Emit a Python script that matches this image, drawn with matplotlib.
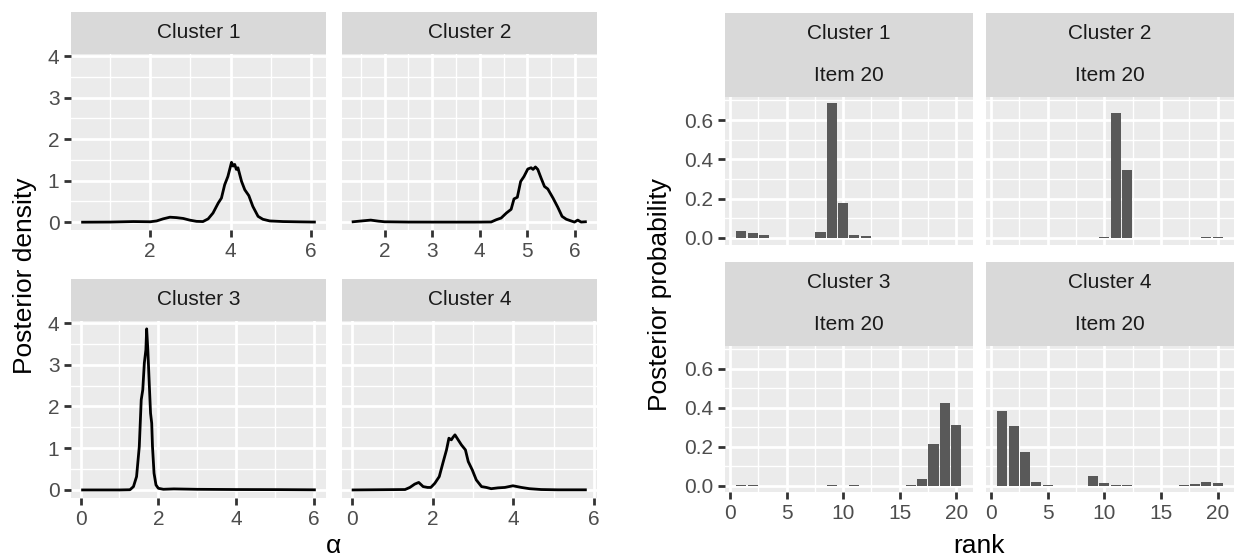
import matplotlib
matplotlib.use("Agg")
import matplotlib.pyplot as plt
import numpy as np

plt.rcParams['font.family'] = ['Liberation Sans', 'DejaVu Sans']

# ---------------- data ----------------
clusters = ["Cluster 1", "Cluster 2", "Cluster 3", "Cluster 4"]
item_label = "Item 20"

c1_alpha = [0.32, 1.0, 1.58, 2.0, 2.16, 2.32, 2.49, 2.65, 2.82, 2.98, 3.15, 3.31, 3.44, 3.56,
            3.69, 3.77, 3.85, 3.93, 4.02, 4.06, 4.10, 4.14, 4.18, 4.27, 4.35, 4.45, 4.55,
            4.68, 4.80, 4.97, 5.3, 5.71, 6.08]
c1_density = [0.0, 0.003, 0.015, 0.01, 0.03, 0.08, 0.12, 0.11, 0.09, 0.05, 0.02, 0.015, 0.08,
              0.22, 0.46, 0.58, 0.90, 1.10, 1.44, 1.35, 1.39, 1.27, 1.31, 0.98, 0.78, 0.64,
              0.38, 0.14, 0.07, 0.03, 0.015, 0.008, 0.003]

c2_alpha = [1.34, 1.52, 1.71, 1.87, 2.0, 2.5, 3.2, 3.9, 4.24, 4.35, 4.45, 4.56, 4.66, 4.72,
            4.79, 4.86, 4.93, 5.01, 5.08, 5.12, 5.17, 5.22, 5.29, 5.36, 5.43, 5.54, 5.64,
            5.73, 5.82, 5.92, 5.99, 6.06, 6.13, 6.22]
c2_density = [0.01, 0.03, 0.05, 0.025, 0.01, 0.003, 0.002, 0.002, 0.005, 0.06, 0.10, 0.22,
              0.31, 0.56, 0.60, 0.98, 1.10, 1.28, 1.31, 1.27, 1.33, 1.27, 1.06, 0.86, 0.80,
              0.58, 0.36, 0.14, 0.07, 0.03, 0.003, 0.05, 0.003, 0.01]

c3_alpha = [0.05, 1.0, 1.27, 1.36, 1.44, 1.51, 1.56, 1.60, 1.64, 1.68, 1.70, 1.73, 1.77, 1.80,
            1.83, 1.85, 1.89, 1.94, 2.0, 2.13, 2.4, 3.0, 4.0, 5.0, 6.02]
c3_density = [0.0, 0.0, 0.005, 0.08, 0.32, 1.04, 2.16, 2.40, 3.04, 3.36, 3.86, 3.36, 2.48,
              1.84, 1.60, 1.04, 0.40, 0.12, 0.04, 0.016, 0.025, 0.015, 0.01, 0.008, 0.003]

c4_alpha = [0.02, 1.31, 1.43, 1.55, 1.65, 1.76, 1.87, 1.95, 2.05, 2.16, 2.26, 2.34, 2.40,
            2.46, 2.50, 2.55, 2.63, 2.71, 2.81, 2.88, 2.98, 3.08, 3.21, 3.33, 3.45, 3.62,
            3.79, 3.99, 4.20, 4.40, 4.69, 5.11, 5.79]
c4_density = [0.0, 0.01, 0.06, 0.14, 0.18, 0.08, 0.06, 0.06, 0.16, 0.32, 0.68, 0.96, 1.24,
              1.20, 1.26, 1.32, 1.20, 1.08, 0.96, 0.68, 0.48, 0.24, 0.08, 0.06, 0.03, 0.05,
              0.06, 0.10, 0.06, 0.03, 0.01, 0.003, 0.003]

ranks = list(range(1, 21))
c1_prob = [0.034, 0.027, 0.017, 0.002, 0.002, 0.0, 0.001, 0.030, 0.685, 0.176,
           0.014, 0.008, 0.0, 0.0, 0.0, 0.0, 0.0, 0.001, 0.002, 0.002]
c2_prob = [0.001, 0.001, 0.0, 0.0, 0.0, 0.0, 0.0, 0.0, 0.002, 0.004,
           0.634, 0.346, 0.001, 0.0, 0.0, 0.0, 0.0, 0.002, 0.004, 0.003]
c3_prob = [0.002, 0.002, 0.001, 0.0, 0.0, 0.0, 0.0, 0.0, 0.002, 0.001,
           0.002, 0.001, 0.0, 0.0, 0.0, 0.002, 0.032, 0.212, 0.422, 0.313]
c4_prob = [0.383, 0.306, 0.171, 0.017, 0.003, 0.0, 0.0, 0.001, 0.051, 0.014,
           0.002, 0.002, 0.0, 0.0, 0.0, 0.0, 0.002, 0.009, 0.021, 0.014]

dens_x = [c1_alpha, c2_alpha, c3_alpha, c4_alpha]
dens_y = [c1_density, c2_density, c3_density, c4_density]
probs = [c1_prob, c2_prob, c3_prob, c4_prob]

# ---------------- styling ----------------
W, H = 1242, 560
fig = plt.figure(figsize=(W / 100, H / 100), dpi=100)

PANEL_BG = '#EBEBEB'
STRIP_BG = '#D9D9D9'
TICK_COL = '#333333'
TLAB_COL = '#4D4D4D'
STRIP_TXT = '#1A1A1A'
FS_TICK = 15
FS_STRIP = 15
FS_TITLE = 19


def ax_px(x0, y0, x1, y1, **kw):
    return fig.add_axes([x0 / W, 1 - y1 / H, (x1 - x0) / W, (y1 - y0) / H], **kw)


def expand(lo, hi, f=0.05):
    d = (hi - lo) * f
    return lo - d, hi + d


def minors(major, lim):
    step = major[1] - major[0]
    cand = np.arange(major[0] - step / 2, major[-1] + step, step)
    return [c for c in cand if lim[0] <= c <= lim[1]]


def style_panel(ax, xlim, ylim, xmaj, ymaj, xfmt, yfmt, show_x, show_y):
    ax.set_facecolor(PANEL_BG)
    for s in ax.spines.values():
        s.set_visible(False)
    ax.set_xlim(*xlim)
    ax.set_ylim(*ylim)
    xm = [v for v in xmaj if xlim[0] <= v <= xlim[1]]
    ym = [v for v in ymaj if ylim[0] <= v <= ylim[1]]
    ax.set_xticks(xm)
    ax.set_xticks(minors(xmaj, xlim), minor=True)
    ax.set_yticks(ym)
    ax.set_yticks(minors(ymaj, ylim), minor=True)
    ax.set_xticklabels([xfmt.format(v) for v in xm])
    ax.set_yticklabels([yfmt.format(v) for v in ym])
    ax.set_axisbelow(True)
    ax.grid(which='major', color='white', lw=2.0)
    ax.grid(which='minor', color='white', lw=1.0)
    ax.tick_params(which='minor', length=0)
    ax.tick_params(which='major', length=4.8, width=2.0, color=TICK_COL,
                   labelcolor=TLAB_COL, labelsize=FS_TICK, pad=3.5)
    if not show_x:
        ax.tick_params(axis='x', which='both', bottom=False, labelbottom=False)
    if not show_y:
        ax.tick_params(axis='y', which='both', left=False, labelleft=False)


def strip(x0, y0, x1, y1, label):
    s = ax_px(x0, y0, x1, y1)
    s.set_facecolor(STRIP_BG)
    s.set_xticks([])
    s.set_yticks([])
    for sp in s.spines.values():
        sp.set_visible(False)
    s.text(0.5, 0.5, label, ha='center', va='center', fontsize=FS_STRIP,
           color=STRIP_TXT, transform=s.transAxes)


# ---------------- left: density facets ----------------
L_cols = [(71, 326), (341.5, 597)]
L_rows = [(12, 53.8, 230.2), (279, 320.8, 498)]  # strip top, panel top, panel bottom
ymax_d = max(max(v) for v in dens_y)
ylim_d = expand(0, ymax_d)

for i in range(4):
    r, c = divmod(i, 2)
    x0, x1 = L_cols[c]
    st, pt, pb = L_rows[r]
    strip(x0, st, x1, pt, clusters[i])
    ax = ax_px(x0, pt, x1, pb)
    xlim = expand(min(dens_x[i]), max(dens_x[i]))
    xmaj = [1, 2, 3, 4, 5, 6, 7] if i == 1 else [0, 2, 4, 6]
    if i == 0:
        xmaj = [2, 4, 6]
    ax.plot(dens_x[i], dens_y[i], color='black', lw=2.0, solid_joinstyle='round')
    style_panel(ax, xlim, ylim_d, xmaj, [0, 1, 2, 3, 4], '{:g}', '{:g}',
                show_x=True, show_y=(c == 0))

fig.text(25 / W, 1 - ((53.8 + 498) / 2) / H, 'Posterior density', rotation=90,
         ha='center', va='center', fontsize=FS_TITLE, color='black')
fig.text(((71 + 597) / 2) / W, 1 - 546 / H, 'α', ha='center', va='center',
         fontsize=FS_TITLE, color='black')

# ---------------- right: bar facets ----------------
R_cols = [(725, 972.5), (986, 1234)]
R_rows = [(12.7, 54.7, 96.7, 244.7), (261.5, 303.5, 345.5, 492.4)]
ymax_p = max(max(v) for v in probs)
ylim_p = expand(0, ymax_p)
xlim_r = expand(0.55, 20.45)

for i in range(4):
    r, c = divmod(i, 2)
    x0, x1 = R_cols[c]
    s1, s2, pt, pb = R_rows[r]
    strip(x0, s1, x1, s2, clusters[i])
    strip(x0, s2, x1, pt, item_label)
    ax = ax_px(x0, pt, x1, pb)
    ax.bar(ranks, probs[i], width=0.9, color='#595959', linewidth=0)
    style_panel(ax, xlim_r, ylim_p, [0, 5, 10, 15, 20], [0.0, 0.2, 0.4, 0.6],
                '{:g}', '{:.1f}', show_x=(r == 1), show_y=(c == 0))

fig.text(660 / W, 1 - ((96.7 + 492.4) / 2) / H, 'Posterior probability', rotation=90,
         ha='center', va='center', fontsize=FS_TITLE, color='black')
fig.text(((725 + 1234) / 2) / W, 1 - 546 / H, 'rank', ha='center', va='center',
         fontsize=FS_TITLE, color='black')

fig.savefig('out.png', dpi=100, facecolor='white')
